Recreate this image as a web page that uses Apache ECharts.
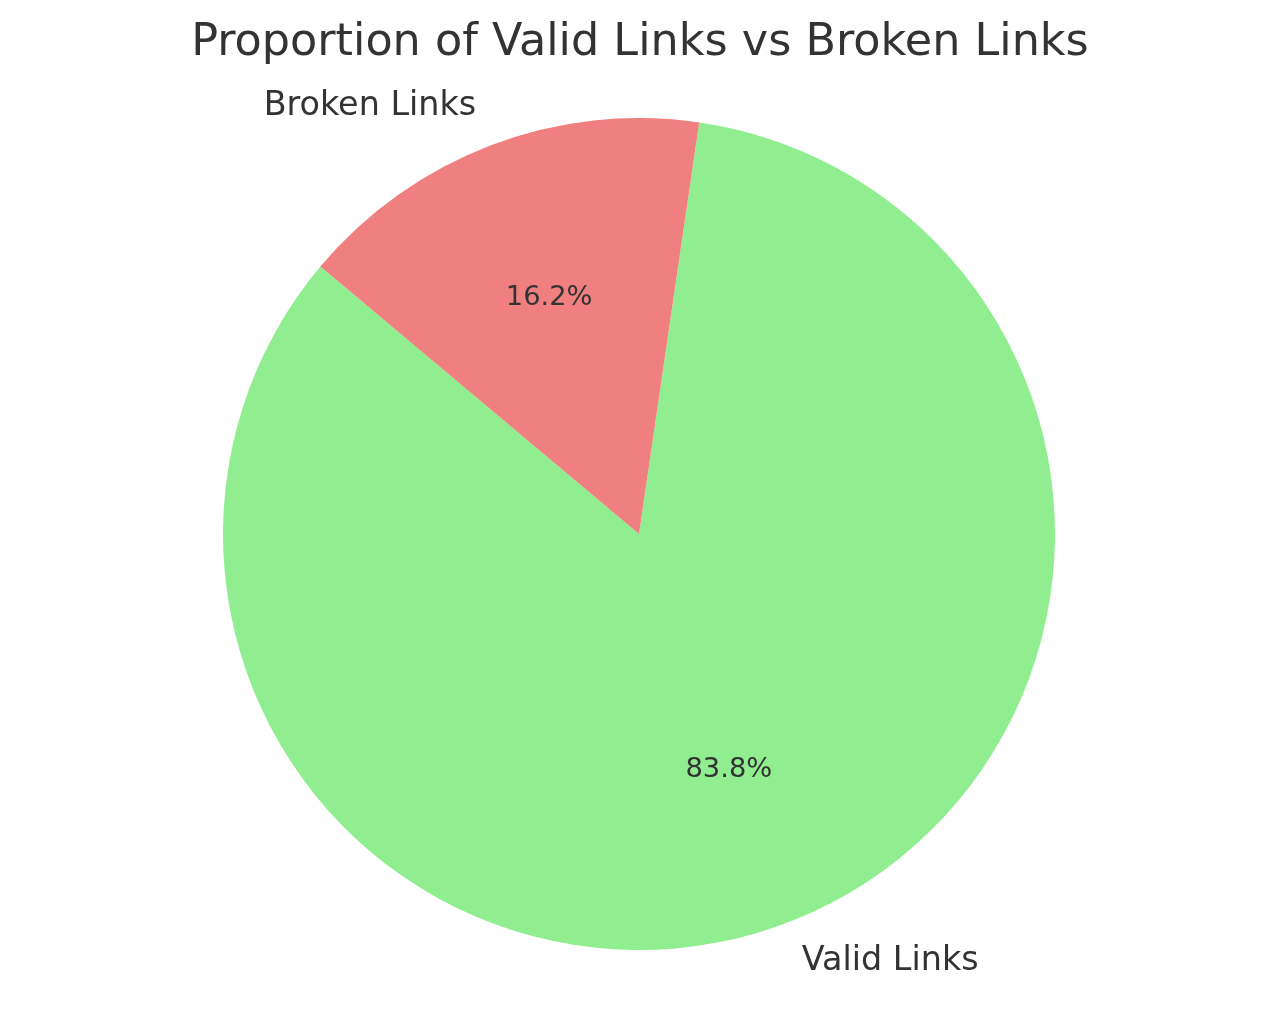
<!DOCTYPE html>
<html>
<head>
<meta charset="utf-8">
<script src="https://cdn.jsdelivr.net/npm/echarts@6/dist/echarts.min.js"></script>
<style>
html,body{margin:0;padding:0;background:#fff;}
#chart{width:1280px;height:1014px;}
</style>
</head>
<body>
<div id="chart"></div>
<script>
const categories = ['Valid Links', 'Broken Links'];
const values = [83.8, 16.2];
const colors = ['#90EE90', '#F08080'];
const titleText = 'Proportion of Valid Links vs Broken Links';

const R = 416;
const CX = 639, CY = 534;
const FONT = 'DejaVu Sans';

const chart = echarts.init(document.getElementById('chart'), null, {renderer: 'canvas'});

const mainData = categories.map((c, i) => ({name: c, value: values[i], itemStyle: {color: colors[i]}}));
const pctData = categories.map((c, i) => ({name: c, value: values[i], itemStyle: {color: 'rgba(0,0,0,0)'}}));

chart.setOption({
  animation: false,
  title: {
    text: titleText,
    left: 'center',
    top: 16,
    textStyle: {fontFamily: FONT, fontSize: 44.5, fontWeight: 'normal', color: '#333333'}
  },
  series: [
    {
      type: 'pie',
      center: [CX, CY],
      radius: [0, R],
      startAngle: 140,
      clockwise: false,
      avoidLabelOverlap: false,
      silent: true,
      data: mainData,
      label: {
        show: true,
        position: 'outside',
        formatter: '{b}',
        distanceToLabelLine: 0,
        fontFamily: FONT,
        fontSize: 33.4,
        color: '#333333'
      },
      labelLine: {show: false, length: R * 0.1, length2: 0}
    },
    {
      type: 'pie',
      center: [CX, CY],
      radius: [R * 0.6 - 10, R * 0.6 + 10],
      startAngle: 140,
      clockwise: false,
      avoidLabelOverlap: false,
      silent: true,
      data: pctData,
      label: {
        show: true,
        position: 'inside',
        formatter: p => p.value.toFixed(1) + '%',
        fontFamily: FONT,
        fontSize: 27.3,
        color: '#333333'
      },
      labelLine: {show: false}
    }
  ]
});
</script>
</body>
</html>
